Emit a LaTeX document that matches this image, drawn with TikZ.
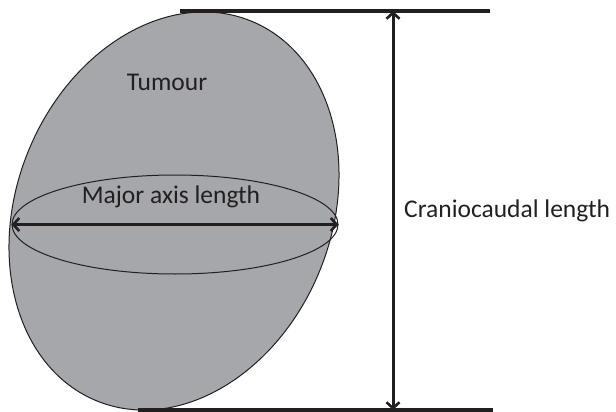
\documentclass[tikz,border=0pt]{standalone}
\usepackage{fontspec}
\setmainfont{Carlito}
\usepackage{tikz}
\usetikzlibrary{arrows.meta, shapes.geometric, positioning, calc}
\usepackage{xcolor}
\definecolor{tumourgray}{RGB}{166,167,171}
\definecolor{inkdark}{RGB}{35,31,32}
\tikzset{
  tumour/.style={
    ellipse, draw=inkdark, line width=1pt, fill=tumourgray,
    minimum width=410pt, minimum height=315pt, rotate=68, inner sep=0pt
  },
  slice/.style={
    ellipse, draw=inkdark, line width=1pt,
    minimum width=326pt, minimum height=99pt, inner sep=0pt
  },
  textlbl/.style={font=\fontsize{25.5}{30}\selectfont, text=inkdark, inner sep=0pt},
  refline/.style={line width=3.6pt, draw=inkdark},
  measure/.style={
    {Straight Barb[length=6pt,width=13pt,line width=2.6pt]}-{Straight Barb[length=6pt,width=13pt,line width=2.6pt]},
    line width=3pt, draw=inkdark
  }
}

\begin{document}
\begin{tikzpicture}[x=1pt, y=-1pt]
  \useasboundingbox (0,0) rectangle (616,412);
  \node[tumour] (tum) at (174,211) {};
  \node[slice] (axis) at (175,224.5) {};
  \node[textlbl] (tumtxt) at (167,82) {Tumour};
  \node[textlbl] (majtxt) at (171,197) {Major axis length};

  \coordinate (topL) at (180,11);
  \coordinate (topR) at (490,11);
  \coordinate (botL) at (138,410);
  \coordinate (botR) at (493,410);
  \coordinate (cctop) at (393,11);
  \coordinate (ccbot) at (393,410);
  \node[textlbl, right=11pt of $(cctop)!0.5!(ccbot)$] (cctxt) {Craniocaudal length};

  \draw[refline] (topL) -- (topR);
  \draw[refline] (botL) -- (botR);
  \draw[measure] (cctop) -- (ccbot);
  \draw[measure] (axis.west) -- (axis.east);
\end{tikzpicture}
\end{document}
